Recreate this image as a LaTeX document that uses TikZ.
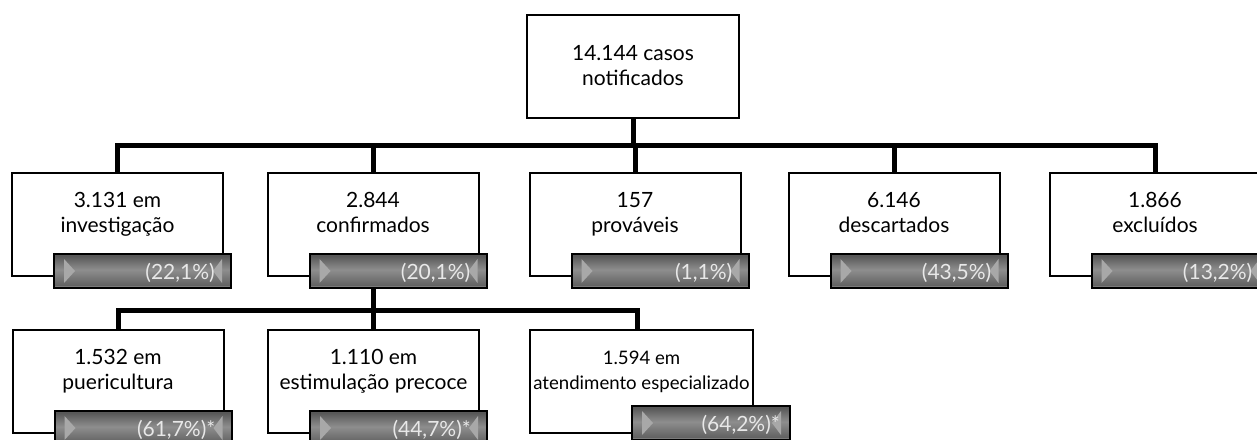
\documentclass[tikz,border=0pt]{standalone}
\usepackage{fontspec}
\setmainfont{Lato}
\usetikzlibrary{calc,backgrounds}
\definecolor{barTop}{RGB}{88,88,88}
\definecolor{barMid}{RGB}{142,142,142}
\definecolor{barLow}{RGB}{98,98,98}
\definecolor{barBot}{RGB}{192,192,192}
\definecolor{pctText}{RGB}{232,232,232}
\definecolor{triGray}{RGB}{168,168,168}
\pgfdeclareverticalshading{barshade}{100bp}{color(0bp)=(barBot); color(25bp)=(barBot); color(29bp)=(barLow); color(52bp)=(barMid); color(72bp)=(barTop); color(75bp)=(barTop); color(100bp)=(barTop)}
\tikzset{
  box/.style={draw, line width=2pt, minimum width=211pt, minimum height=103pt, inner sep=0pt, fill=white},
  boxtext/.style={anchor=base, align=center, inner sep=0pt, font=\fontsize{21}{24.5}\selectfont},
  pbar/.style={draw, line width=2pt, minimum width=177pt, minimum height=34pt, inner sep=0pt, shading=barshade},
  pct/.style={anchor=base east, inner sep=0pt, text=pctText, font=\fontsize{21}{24}\selectfont},
  bus/.style={line width=5pt, line join=miter},
  tri/.style={fill=triGray}
}
\newcommand\casebox[4]{% name, x, y, text
  \node[box] (#1) at (#2,#3) {};
  \node[boxtext] (#1t) at ($(#1.north)+(0,60)$) {#4};
}
\newcommand\pctbar[3][25]{% [x offset], box name, text
  \node[pbar] (#2b) at ($(#2.south)+(#1,-6)$) {};
  \fill[tri] ($(#2b.west)+(11,-12)$) -- ($(#2b.west)+(22,0)$) -- ($(#2b.west)+(11,12)$) -- cycle;
  \fill[tri] ($(#2b.east)+(-10,-12)$) -- ($(#2b.east)+(-19,0)$) -- ($(#2b.east)+(-10,12)$) -- cycle;
  \node[pct] (#2p) at ($(#2b.east)+(-17,8)$) {#3};
}
\begin{document}
\begin{tikzpicture}[x=1pt, y=-1pt]
\useasboundingbox (0,0) rectangle (1257,439);
% top
\node[box, minimum width=212pt] (top) at (633,66.5) {};
\node[boxtext] (topt) at ($(top.north)+(0,71)$) {14.144 casos\\notificados};
% level 2
\casebox{c1}{117.5}{224.5}{3.131 em\\investigação}
\casebox{c2}{373}{224.5}{2.844\\confirmados}
\casebox{c3}{635}{224.5}{157\\prováveis}
\casebox{c4}{894}{224.5}{6.146\\descartados}
\casebox{c5}{1155}{224.5}{1.866\\excluídos}
\pctbar{c1}{(22,1\%)}
\pctbar{c2}{(20,1\%)}
\pctbar{c3}{(1,1\%)}
\pctbar{c4}{(43,5\%)}
\pctbar{c5}{(13,2\%)}
% level 3
\casebox{d1}{118}{381.5}{1.532 em\\puericultura}
\casebox{d2}{373.5}{381.5}{1.110 em\\estimulação precoce}
\node[box, minimum width=223pt] (d3) at (641.5,381.5) {};
\node[boxtext, font=\fontsize{18.6}{24.5}\selectfont] (d3t) at ($(d3.north)+(0,60)$) {1.594 em\\atendimento especializado};
\pctbar{d1}{(61,7\%)*}
\pctbar{d2}{(44,7\%)*}
\node[pbar, minimum width=158pt] (d3b) at (711,423) {};
\fill[tri] ($(d3b.west)+(11,-12)$) -- ($(d3b.west)+(22,0)$) -- ($(d3b.west)+(11,12)$) -- cycle;
\fill[tri] ($(d3b.east)+(-10,-12)$) -- ($(d3b.east)+(-19,0)$) -- ($(d3b.east)+(-10,12)$) -- cycle;
\node[pct] (d3p) at ($(d3b.east)+(-11,8)$) {(64,2\%)*};
% connectors
\coordinate (bus1) at (633,145);
\coordinate (bus2) at (373,310);
\begin{scope}[on background layer]
  \draw[bus] (top.south) -- (top.south |- bus1);
  \draw[bus] (c1.north) |- (c5.north |- bus1) -- (c5.north);
  \draw[bus] (c2.north) -- (c2.north |- bus1);
  \draw[bus] (c3.north) -- (c3.north |- bus1);
  \draw[bus] (c4.north) -- (c4.north |- bus1);
  \draw[bus] (c2 |- c2b.south) -- (c2 |- bus2);
  \draw[bus] (d1.north) |- ([xshift=-4.5pt]d3.north |- bus2) -- ([xshift=-4.5pt]d3.north);
  \draw[bus] (d2.north) -- (d2.north |- bus2);
\end{scope}
\end{tikzpicture}
\end{document}
